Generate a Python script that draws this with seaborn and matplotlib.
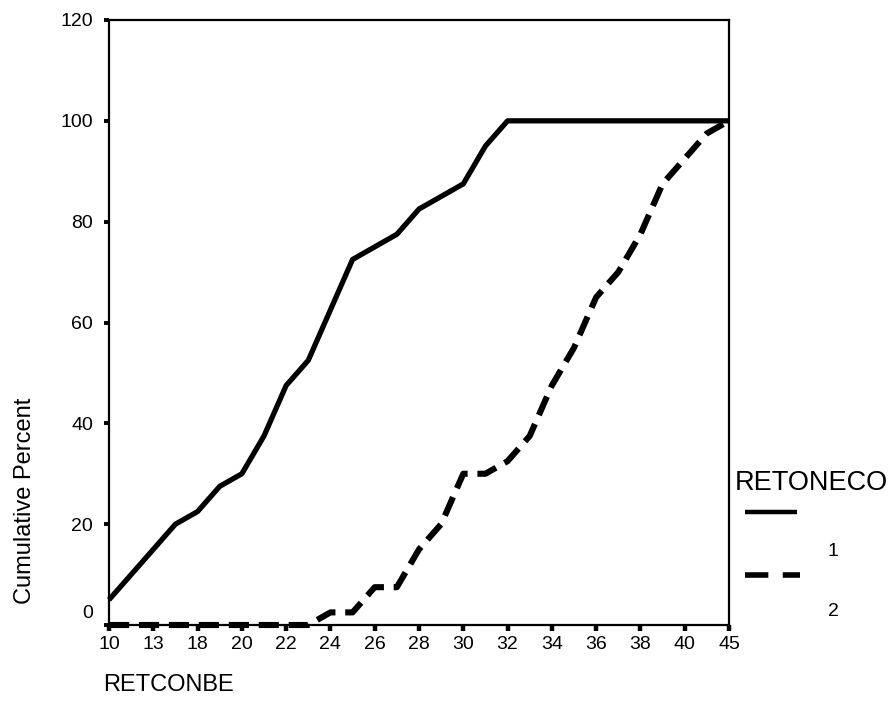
import matplotlib
matplotlib.use("Agg")
import matplotlib.pyplot as plt
import pandas as pd
import seaborn as sns
from matplotlib.lines import Line2D

# RETCONBE categories (ordinal positions on the x axis)
categories = [10, 12, 13, 16, 18, 19, 20, 21, 22, 23, 24, 25, 26, 27, 28,
              29, 30, 31, 32, 33, 34, 35, 36, 37, 38, 39, 40, 42, 45]
# every other category carries a tick label
tick_labels = ["10", "13", "18", "20", "22", "24", "26", "28", "30", "32",
               "34", "36", "38", "40", "45"]

# cumulative percent per RETONECO group
group_1 = [5, 10, 15, 20, 22.5, 27.5, 30, 37.5, 47.5, 52.5, 62.5, 72.5, 75,
           77.5, 82.5, 85, 87.5, 95, 100, 100, 100, 100, 100, 100, 100, 100,
           100, 100, 100]
group_2 = [0, 0, 0, 0, 0, 0, 0, 0, 0, 0, 2.5, 2.5, 7.5, 7.5, 15, 20, 30, 30,
           32.5, 37.5, 47.5, 55, 65, 70, 77.5, 87.5, 92.5, 97.5, 100]

y_ticks = [0, 20, 40, 60, 80, 100, 120]

sns.set_style("white")
plt.rcParams["font.family"] = ["Liberation Sans", "DejaVu Sans"]
plt.rcParams["text.color"] = "black"
plt.rcParams["xtick.color"] = "black"
plt.rcParams["ytick.color"] = "black"

positions = list(range(len(categories)))
df = pd.DataFrame({
    "pos": positions * 2,
    "RETCONBE": categories * 2,
    "pct": group_1 + group_2,
    "RETONECO": ["1"] * len(categories) + ["2"] * len(categories),
})

fig = plt.figure(figsize=(8.93, 7.26), dpi=100)
ax = fig.add_axes([109 / 893, 101 / 726, 620 / 893, 605 / 726])

sns.lineplot(data=df, x="pos", y="pct", style="RETONECO", color="black",
             dashes={"1": "", "2": (3.3, 1.6)}, linewidth=3.8,
             legend=False, ax=ax)
for ln in ax.lines:
    ln.set_clip_on(False)
    ln.set_solid_capstyle("butt")
    ln.set_dash_capstyle("butt")
ax.lines[1].set_linewidth(4.4)

ax.set_xlim(0, len(categories) - 1)
ax.set_ylim(0, 120)
ax.set_xticks(positions[::2])
ax.set_xticklabels(tick_labels)
ax.set_yticks(y_ticks)
ax.set_yticklabels([""] + [str(v) for v in y_ticks[1:]])
ax.annotate("0", xy=(0, 0), xycoords=("axes fraction", "data"),
            xytext=(-11.5, 8), textcoords="offset points",
            ha="right", va="center", fontsize=14, color="black")

ax.tick_params(axis="y", left=True, direction="out", length=3.5, width=2.8,
               pad=8, labelsize=14, color="black", labelcolor="black")
ax.tick_params(axis="x", bottom=True, direction="out", length=4.5, width=3.2,
               pad=3.5, labelsize=14, color="black", labelcolor="black")
ax.set_xlabel("")
ax.set_ylabel("")
for side in ["left", "bottom", "top", "right"]:
    ax.spines[side].set_visible(True)
    ax.spines[side].set_color("black")
    ax.spines[side].set_linewidth(1.6)

# axis titles
fig.text(25 / 893, 1 - 501 / 726, "Cumulative Percent", rotation=90,
         ha="center", va="center", fontsize=17)
fig.text(103 / 893, 1 - 685 / 726, "RETCONBE", ha="left", va="center",
         fontsize=17)

# legend drawn to the right of the plot
fig.text(735 / 893, 1 - 483 / 726, "RETONECO", ha="left", va="center",
         fontsize=19.5)
fig.add_artist(Line2D([745 / 893, 797 / 893], [1 - 512 / 726, 1 - 512 / 726],
                      transform=fig.transFigure, color="black", lw=3.2,
                      solid_capstyle="butt"))
fig.text(833 / 893, 1 - 551 / 726, "1", ha="center", va="center", fontsize=14)
fig.add_artist(Line2D([745 / 893, 800 / 893], [1 - 575 / 726, 1 - 575 / 726],
                      transform=fig.transFigure, color="black", lw=4.0,
                      linestyle=(0, (4.2, 2.6)), dash_capstyle="butt"))
fig.text(833 / 893, 1 - 612 / 726, "2", ha="center", va="center", fontsize=14)

fig.savefig("out.png", dpi=100)
